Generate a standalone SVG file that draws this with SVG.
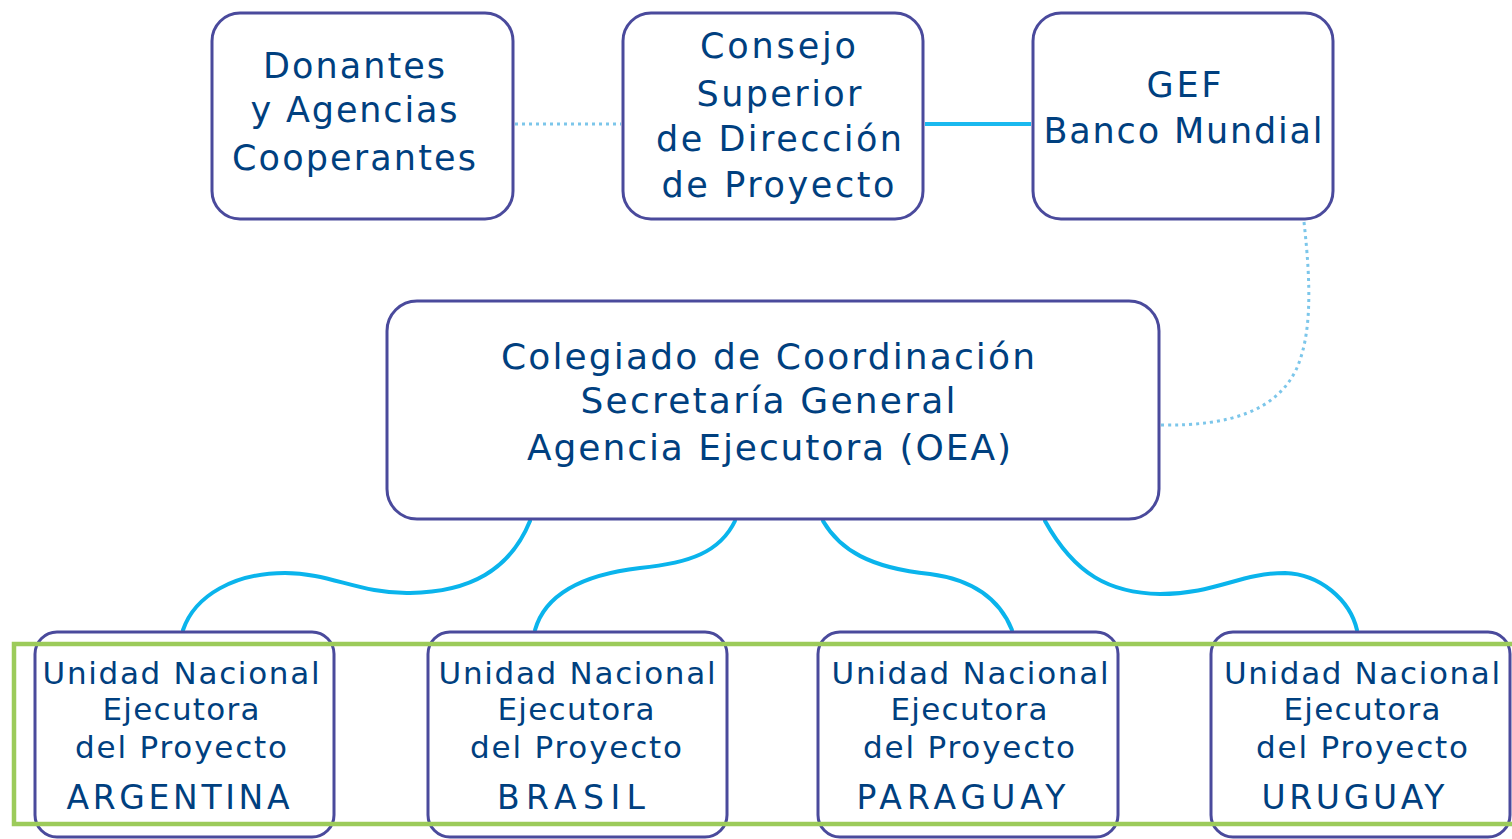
<svg xmlns="http://www.w3.org/2000/svg" width="1512" height="839" viewBox="0 0 1512 839">
<style>
.box{fill:#fff;stroke:#4a4a9c;stroke-width:3}
.t{font-family:"DejaVu Sans",Verdana,sans-serif;fill:#00407f;text-anchor:middle}
.big{font-size:35px}
.mid{font-size:36px}
.sm{font-size:31px}
.cty{font-size:33px}
.curve{fill:none;stroke:#0ab4ec;stroke-width:4;stroke-linecap:round}
.dot{fill:none;stroke:#7cc6ea;stroke-width:3;stroke-dasharray:3 4}
.solid{fill:none;stroke:#1ab9ef;stroke-width:4}
</style>
<rect width="1512" height="839" fill="#fff"/>
<g id="connectors">
<line class="dot" x1="515" y1="124" x2="621" y2="124"/>
<line class="solid" x1="925" y1="124" x2="1031" y2="124"/>
<path class="dot" d="M1304,222 C1311,285 1312,335 1296,370 C1276,410 1232,426 1161,425"/>
<path class="curve" d="M530,521 C510,570 470,592 410,593 C360,594 330,573 285,573 C235,573 195,595 183,630"/>
<path class="curve" d="M735,521 C720,552 690,563 640,568 C580,575 545,595 535,630"/>
<path class="curve" d="M823,521 C840,550 870,568 930,574 C975,580 1000,600 1012,630"/>
<path class="curve" d="M1045,521 C1075,575 1110,593 1160,594 C1215,594 1240,573 1285,573 C1320,574 1350,600 1357,630"/>
</g>
<g id="donantes">
<rect class="box" x="212" y="13" width="301" height="206" rx="28"/>
<text class="t big" x="354" y="78" textLength="182" lengthAdjust="spacing">Donantes</text>
<text class="t big" x="354" y="122" textLength="207" lengthAdjust="spacing">y Agencias</text>
<text class="t big" x="354" y="170" textLength="244" lengthAdjust="spacing">Cooperantes</text>
</g>
<g id="consejo">
<rect class="box" x="623" y="13" width="300" height="206" rx="28"/>
<text class="t big" x="778" y="58" textLength="156" lengthAdjust="spacing">Consejo</text>
<text class="t big" x="779" y="106" textLength="165" lengthAdjust="spacing">Superior</text>
<text class="t big" x="779" y="151" textLength="246" lengthAdjust="spacing">de Dirección</text>
<text class="t big" x="778" y="197" textLength="233" lengthAdjust="spacing">de Proyecto</text>
</g>
<g id="gef">
<rect class="box" x="1033" y="13" width="300" height="206" rx="28"/>
<text class="t big" x="1184" y="97" textLength="75" lengthAdjust="spacing">GEF</text>
<text class="t big" x="1183" y="143" textLength="279" lengthAdjust="spacing">Banco Mundial</text>
</g>
<g id="colegiado">
<rect class="box" x="387" y="301" width="772" height="218" rx="30"/>
<text class="t mid" x="768" y="369" textLength="534" lengthAdjust="spacing">Colegiado de Coordinación</text>
<text class="t mid" x="768" y="413" textLength="375" lengthAdjust="spacing">Secretaría General</text>
<text class="t mid" x="769" y="460" textLength="484" lengthAdjust="spacing">Agencia Ejecutora (OEA)</text>
</g>
<g id="argentina">
<rect class="box" x="35" y="632" width="299" height="205" rx="22"/>
<text class="t sm" x="181" y="684" textLength="277" lengthAdjust="spacing">Unidad Nacional</text>
<text class="t sm" x="181" y="720" textLength="157" lengthAdjust="spacing">Ejecutora</text>
<text class="t sm" x="181" y="758" textLength="212" lengthAdjust="spacing">del Proyecto</text>
<text class="t cty" x="178" y="809" textLength="223" lengthAdjust="spacing">ARGENTINA</text>
</g>
<g id="brasil">
<rect class="box" x="428" y="632" width="299" height="205" rx="22"/>
<text class="t sm" x="577" y="684" textLength="277" lengthAdjust="spacing">Unidad Nacional</text>
<text class="t sm" x="576" y="720" textLength="157" lengthAdjust="spacing">Ejecutora</text>
<text class="t sm" x="576" y="758" textLength="212" lengthAdjust="spacing">del Proyecto</text>
<text class="t cty" x="571" y="809" textLength="148" lengthAdjust="spacing">BRASIL</text>
</g>
<g id="paraguay">
<rect class="box" x="818" y="632" width="300" height="205" rx="22"/>
<text class="t sm" x="970" y="684" textLength="277" lengthAdjust="spacing">Unidad Nacional</text>
<text class="t sm" x="969" y="720" textLength="157" lengthAdjust="spacing">Ejecutora</text>
<text class="t sm" x="969" y="758" textLength="212" lengthAdjust="spacing">del Proyecto</text>
<text class="t cty" x="961" y="809" textLength="209" lengthAdjust="spacing">PARAGUAY</text>
</g>
<g id="uruguay">
<rect class="box" x="1211" y="632" width="299" height="205" rx="22"/>
<text class="t sm" x="1362" y="684" textLength="276" lengthAdjust="spacing">Unidad Nacional</text>
<text class="t sm" x="1362" y="720" textLength="157" lengthAdjust="spacing">Ejecutora</text>
<text class="t sm" x="1362" y="758" textLength="212" lengthAdjust="spacing">del Proyecto</text>
<text class="t cty" x="1353" y="809" textLength="183" lengthAdjust="spacing">URUGUAY</text>
</g>
<rect x="14" y="644" width="1510" height="180" fill="none" stroke="#9ccb5a" stroke-width="4.5"/>
</svg>
